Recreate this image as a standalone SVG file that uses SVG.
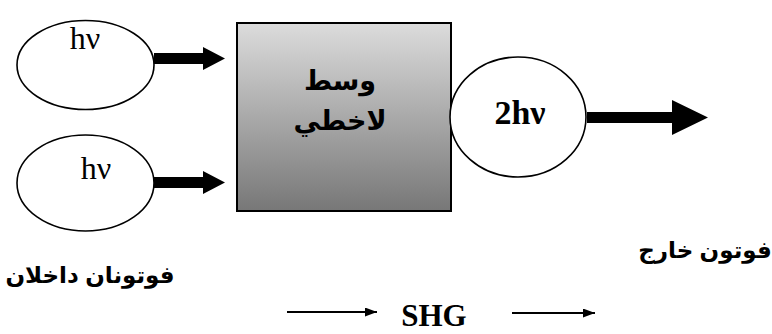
<svg xmlns="http://www.w3.org/2000/svg" width="772" height="334" viewBox="0 0 772 334">
<defs>
<linearGradient id="g" x1="0" y1="0" x2="0" y2="1">
<stop offset="0" stop-color="#dcdcdc"/>
<stop offset="1" stop-color="#777777"/>
</linearGradient>
<marker id="ah" markerWidth="12" markerHeight="9" refX="12" refY="4.5" orient="auto" markerUnits="userSpaceOnUse">
<path d="M0,0 L12,4.5 L0,9 Z" fill="#000"/>
</marker>
<style>
.ell{fill:#fff;stroke:#000;stroke-width:1.6}
.lat{font-family:"Liberation Serif","Times New Roman",serif;fill:#000}
.ar{font-family:"Liberation Sans","DejaVu Sans",sans-serif;font-weight:bold;fill:#000}
.thin{stroke:#000;stroke-width:2;fill:none}
</style>
</defs>
<rect width="772" height="334" fill="#fff"/>
<g id="photon1">
<ellipse class="ell" cx="85.5" cy="65" rx="68.5" ry="44.5"/>
<text class="lat" x="85" y="49" font-size="32" text-anchor="middle">hν</text>
</g>
<g id="photon2">
<ellipse class="ell" cx="85.5" cy="183" rx="68.5" ry="48"/>
<text class="lat" x="96" y="179" font-size="32" text-anchor="middle">hν</text>
</g>
<g id="medium">
<rect x="237" y="23" width="214" height="188" fill="url(#g)" stroke="#000" stroke-width="2"/>
<text class="ar" x="340" y="90" font-size="27" text-anchor="middle">وسط</text>
<text class="ar" x="340" y="130" font-size="27" text-anchor="middle">لاخطي</text>
</g>
<g id="photon_out">
<ellipse class="ell" cx="518" cy="117" rx="68" ry="60"/>
<text class="lat" x="520" y="124" font-size="34" font-weight="bold" text-anchor="middle">2hν</text>
</g>
<g id="connectors">
<path d="M154,53 H203 V47 L225,58.5 L203,70 V64 H154 Z" fill="#000"/>
<path d="M154,177 H203 V171 L225,182.5 L203,194 V188 H154 Z" fill="#000"/>
<path d="M587,112 H672 V100 L708,117.5 L672,135 V123 H587 Z" fill="#000"/>
<line class="thin" x1="287" y1="312" x2="377" y2="312" marker-end="url(#ah)"/>
<line class="thin" x1="512" y1="313" x2="595" y2="313" marker-end="url(#ah)"/>
</g>
<g id="labels">
<text class="ar" x="90" y="283" font-size="23" text-anchor="middle">فوتونان داخلان</text>
<text class="ar" x="705" y="258" font-size="23" text-anchor="middle">فوتون خارج</text>
<text class="lat" x="434" y="326" font-size="31" font-weight="bold" text-anchor="middle">SHG</text>
</g>
</svg>
